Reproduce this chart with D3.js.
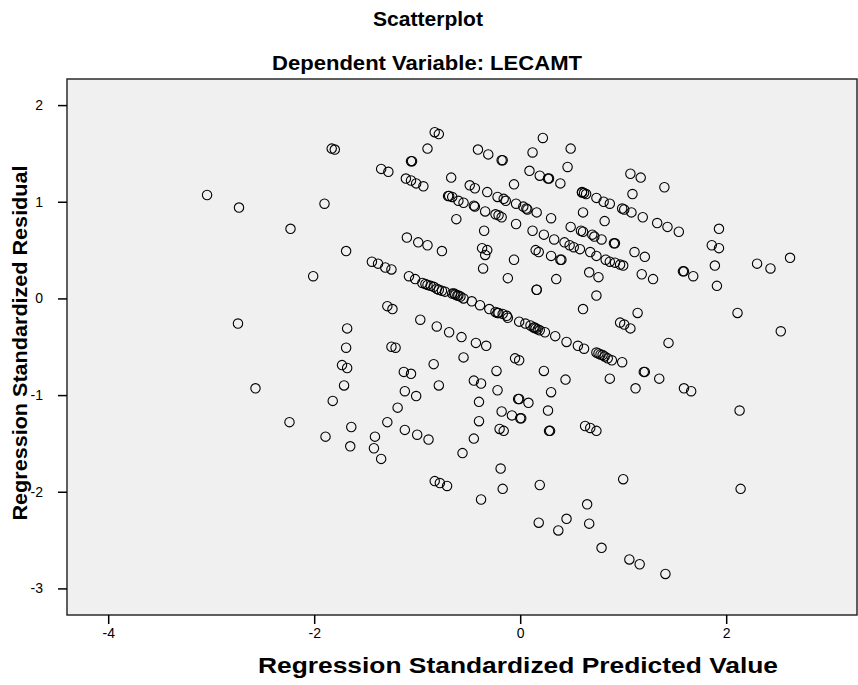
<!DOCTYPE html>
<html>
<head>
<meta charset="utf-8">
<script src="https://cdn.jsdelivr.net/npm/d3@7"></script>
<style>
  body { margin: 0; background: #fff; }
  text { font-family: "Liberation Sans", Arial, sans-serif; }
</style>
</head>
<body>
<div id="chart"></div>
<script>
// regression standardized predicted value (x) and residual (y)
var predicted = [
  -3.04,-2.73,-1.90,-2.23,-1.69,-2.01,-2.74,-1.68,-1.69,-1.73,
  -1.68,-1.71,-2.57,-1.82,-2.24,-1.89,-1.64,-1.65,-1.83,-1.80,
  -1.35,-1.28,-1.44,-1.38,-1.31,-1.25,-1.29,-1.24,-1.25,-1.21,
  -1.29,-1.41,-1.42,-1.35,-1.06,-1.05,-1.11,-1.06,-1.01,-0.94,
  -0.90,-0.83,-0.79,-0.67,-0.70,-0.69,-0.66,-0.60,-0.55,-0.62,
  -1.10,-0.99,-0.90,-0.76,-1.08,-1.02,-0.95,-0.92,-0.87,-0.84,
  -0.81,-0.76,-0.73,-0.66,-0.63,-0.61,-0.58,-0.55,-0.47,-0.39,
  -0.30,-0.24,-0.21,-0.17,-0.13,-0.12,-0.90,-0.79,-0.64,-0.60,
  -0.22,-0.97,-0.81,-0.69,-0.57,-0.43,-0.33,-0.84,-1.13,-1.06,
  -0.55,-0.79,-1.12,-1.01,-1.19,-1.12,-1.00,-0.89,-0.83,-0.78,
  -0.71,-0.41,-0.31,-0.18,-0.17,-0.49,-0.44,-0.32,-0.45,-0.44,
  -0.22,-0.16,-0.14,-0.06,-0.04,0.03,0.06,0.07,0.16,-0.34,
  -0.24,-0.21,-0.18,-0.04,-0.35,0.12,-0.37,-0.32,-0.34,0.15,
  0.18,-0.06,-0.36,-0.12,0.16,0.16,-0.01,0.05,0.10,0.13,
  0.14,0.15,0.17,0.19,0.24,0.34,0.45,0.56,0.62,-0.23,
  -0.45,-0.38,-0.22,-0.40,-0.05,-0.01,-0.01,-0.02,0.08,-0.18,
  -0.08,0.00,0.01,-0.40,-0.45,-0.20,-0.16,-0.56,-0.19,-0.17,
  -0.38,0.09,0.12,0.22,0.19,0.27,0.28,0.39,0.49,0.46,
  0.60,0.62,0.64,0.74,0.81,0.87,0.99,1.01,1.08,0.61,
  0.30,0.82,0.23,0.33,0.43,0.48,0.52,0.58,0.49,0.59,
  0.61,0.70,0.72,0.79,0.91,0.92,0.30,0.39,0.40,0.68,
  0.74,0.83,0.87,0.92,0.97,1.00,0.67,0.76,0.35,0.74,
  0.61,0.74,0.76,0.78,0.82,0.85,0.89,0.99,0.87,0.23,
  0.44,0.30,0.27,0.28,0.29,0.63,0.68,0.74,0.19,0.65,
  0.18,0.45,0.37,0.67,0.79,1.07,1.17,1.40,1.09,1.19,
  1.33,1.43,1.54,1.93,1.86,1.93,1.11,1.21,1.89,2.30,
  2.43,2.62,1.18,1.29,1.58,1.59,1.68,1.91,1.14,2.11,
  0.97,1.01,1.07,2.53,1.44,1.20,1.21,1.35,1.12,1.59,
  1.66,2.13,1.00,2.14,1.06,1.16,1.41,0.80,0.60
];
var residual = [
  1.07,0.94,0.98,0.72,0.49,0.23,-0.26,-0.31,-0.51,-0.69,
  -0.72,-0.90,-0.93,-1.06,-1.28,-1.43,-1.33,-1.53,1.55,1.54,
  1.34,1.31,0.38,0.36,0.32,0.30,-0.08,-0.11,-0.50,-0.51,
  -1.28,-1.43,-1.55,-1.66,1.42,1.42,1.24,1.22,1.19,1.16,
  1.55,1.72,1.70,1.25,1.06,1.06,1.05,1.01,0.99,0.82,
  0.63,0.58,0.55,0.49,0.23,0.20,0.16,0.15,0.13,0.12,
  0.10,0.08,0.07,0.05,0.04,0.03,0.02,0.00,-0.03,-0.07,
  -0.11,-0.14,-0.15,-0.16,-0.18,-0.20,0.14,0.09,0.05,0.03,
  -0.15,-0.22,-0.29,-0.35,-0.40,-0.46,-0.49,-0.68,-0.76,-0.78,
  -0.61,-0.90,-0.96,-1.01,-1.13,-1.36,-1.41,-1.46,-1.89,-1.91,
  -1.94,1.54,1.49,1.43,1.43,1.17,1.14,1.10,0.96,0.95,
  1.05,1.03,1.01,1.18,0.98,0.95,0.93,0.92,0.89,0.90,
  0.87,0.86,0.84,0.77,0.70,0.70,0.52,0.50,0.45,0.50,
  0.48,0.40,0.31,0.21,0.09,0.09,-0.24,-0.26,-0.28,-0.30,
  -0.30,-0.31,-0.32,-0.33,-0.35,-0.39,-0.45,-0.49,-0.52,-0.75,
  -0.85,-0.88,-0.95,-1.07,-0.62,-0.64,-1.04,-1.04,-1.08,-1.17,
  -1.21,-1.24,-1.24,-1.27,-1.45,-1.35,-1.37,-1.60,-1.76,-1.97,
  -2.08,1.32,1.51,1.66,1.27,1.24,1.24,1.19,1.55,1.36,
  1.10,1.09,1.08,1.04,1.00,0.98,0.93,0.92,0.89,0.89,
  0.83,0.80,0.66,0.61,0.58,0.55,0.53,0.51,0.74,0.70,
  0.69,0.66,0.64,0.61,0.57,0.57,0.44,0.40,0.40,0.48,
  0.44,0.40,0.38,0.37,0.35,0.34,0.27,0.22,0.20,0.03,
  -0.11,-0.56,-0.57,-0.58,-0.60,-0.62,-0.64,-0.66,-0.83,-0.75,
  -0.84,-0.97,-1.16,-1.37,-1.37,-1.32,-1.34,-1.37,-1.93,-2.13,
  -2.32,-2.28,-2.40,-2.33,-2.58,1.29,1.25,1.15,1.08,0.84,
  0.78,0.74,0.69,0.72,0.55,0.52,0.48,0.43,0.34,0.36,
  0.31,0.42,0.25,0.20,0.28,0.28,0.23,0.13,-0.15,-0.15,
  -0.25,-0.27,-0.31,-0.34,-0.46,-0.76,-0.76,-0.83,-0.93,-0.93,
  -0.96,-1.16,-1.87,-1.97,-2.70,-2.75,-2.85,-0.585,1.095
];
var xTicks = [-4, -2, 0, 2];
var yTicks = [-3, -2, -1, 0, 1, 2];

var width = 858, height = 685;
var plot = {left: 67, top: 79, right: 857, bottom: 615};

var svg = d3.select('#chart').append('svg')
  .attr('width', width)
  .attr('height', height);

svg.append('rect')
  .attr('width', width).attr('height', height)
  .attr('fill', '#fff');

var x = d3.scaleLinear().domain([-4.40, 3.27]).range([plot.left, plot.right]);
var y = d3.scaleLinear().domain([-3.275, 2.27]).range([plot.bottom, plot.top]);

// plot background + frame
svg.append('rect')
  .attr('x', plot.left).attr('y', plot.top)
  .attr('width', plot.right - plot.left)
  .attr('height', plot.bottom - plot.top)
  .attr('fill', '#f0f0f0')
  .attr('stroke', '#2b2b2b')
  .attr('stroke-width', 1.5);

var fmt = function (d) { return String(d); }; // plain hyphen minus like the original

var xAxis = svg.append('g')
  .attr('transform', 'translate(0,' + plot.bottom + ')')
  .call(d3.axisBottom(x).tickValues(xTicks).tickFormat(fmt)
    .tickSize(9).tickSizeOuter(0).tickPadding(4));
var yAxis = svg.append('g')
  .attr('transform', 'translate(' + plot.left + ',0)')
  .call(d3.axisLeft(y).tickValues(yTicks).tickFormat(fmt)
    .tickSize(9).tickSizeOuter(0).tickPadding(15));

[xAxis, yAxis].forEach(function (g) {
  g.select('.domain').remove();
  g.selectAll('.tick line').attr('stroke', '#000').attr('stroke-width', 1.5);
  g.selectAll('.tick text')
    .attr('fill', '#000')
    .style('font-family', '"Liberation Sans", Arial, sans-serif')
    .style('font-size', '14px');
});

// points
svg.append('g').selectAll('circle')
  .data(predicted.map(function (d, i) { return [d, residual[i]]; }))
  .enter().append('circle')
  .attr('cx', function (d) { return x(d[0]); })
  .attr('cy', function (d) { return y(d[1]); })
  .attr('r', 4.7)
  .attr('fill', 'none')
  .attr('stroke', '#000')
  .attr('stroke-width', 1.1);

// titles
function boldText(tx, ty, size, len, label) {
  return svg.append('text')
    .attr('x', tx).attr('y', ty)
    .attr('text-anchor', 'middle')
    .attr('textLength', len)
    .attr('lengthAdjust', 'spacingAndGlyphs')
    .style('font-size', size + 'px').style('font-weight', 'bold')
    .text(label);
}
boldText(428, 26, 21, 110, 'Scatterplot');
boldText(427, 70, 21, 310, 'Dependent Variable: LECAMT');
boldText(518, 673, 22, 520, 'Regression Standardized Predicted Value');
boldText(0, 0, 21, 355, 'Regression Standardized Residual')
  .attr('transform', 'translate(27,343) rotate(-90)');
</script>
</body>
</html>
